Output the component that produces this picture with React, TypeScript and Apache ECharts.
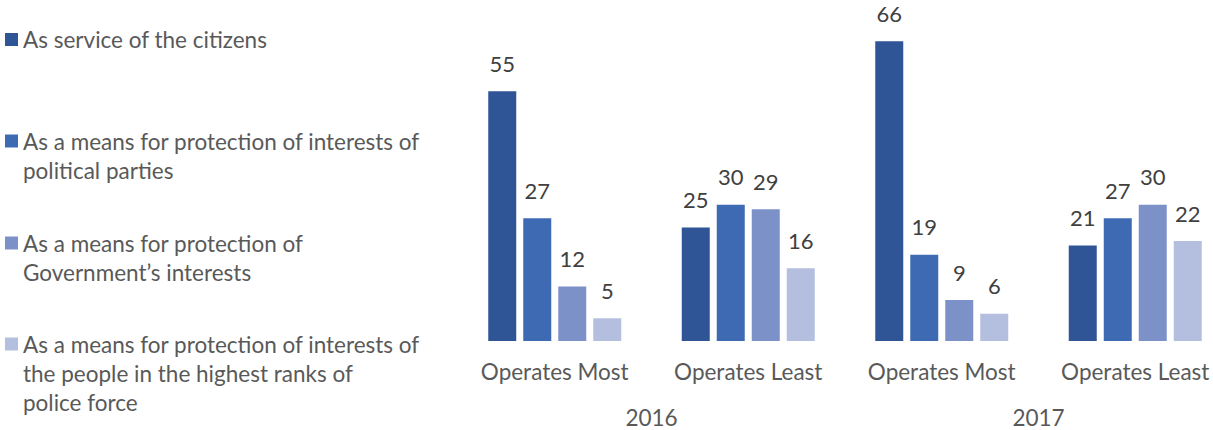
import React, { useEffect, useRef } from "react";
import * as echarts from "echarts";

const categories = ["Operates Most", "Operates Least", "Operates Most", "Operates Least"];
const years = ["2016", "2017"];
const seriesNames = [
  "As service of the citizens",
  "As a means for protection of interests of\npolitical parties",
  "As a means for protection of\nGovernment\u2019s interests",
  "As a means for protection of interests of\nthe people in the highest ranks of\npolice force",
];
const citizens = [55, 25, 66, 21];
const parties = [27, 30, 19, 27];
const government = [12, 29, 9, 30];
const police = [5, 16, 6, 22];
const colors = ["#2f5597", "#3e6ab3", "#7b91c8", "#b4bedf"];

const FONT = "Lato";

export default function App() {
  const ref = useRef<HTMLDivElement>(null);
  useEffect(() => {
    if (!ref.current) return;
    const chart = echarts.init(ref.current, undefined, { renderer: "svg" });
    const values = [citizens, parties, government, police];
    const lineH = 29;
    const iconCenters = [39.5, 141, 243, 344];
    const legends = seriesNames.map((name, i) => {
      const n = name.split("\n").length;
      return {
        show: true,
        left: 5,
        top: iconCenters[i] - ((2 * n - 1) * lineH) / 2,
        padding: 0,
        orient: "vertical",
        itemWidth: 13,
        itemHeight: 13,
        icon: "rect",
        selectedMode: false,
        data: [name],
        formatter: (nm: string) => "\n".repeat(n - 1) + nm,
        textStyle: {
          fontFamily: FONT,
          fontSize: 22.5,
          color: "#595959",
          lineHeight: lineH,
        },
      };
    });
    chart.setOption({
      animation: false,
      color: colors,
      legend: legends,
      grid: {
        left: 458,
        width: 774,
        top: 23,
        bottom: 89,
        containLabel: false,
        outerBoundsMode: "none",
      },
      xAxis: [
        {
          type: "category",
          data: categories,
          axisLine: { show: false },
          axisTick: { show: false },
          axisLabel: {
            interval: 0,
            hideOverlap: false,
            fontFamily: FONT,
            fontSize: 22.5,
            color: "#595959",
            margin: 19,
          },
        },
        {
          type: "category",
          data: years,
          position: "bottom",
          offset: 46,
          axisLine: { show: false },
          axisTick: { show: false },
          axisLabel: { interval: 0, fontFamily: FONT, fontSize: 22.5, color: "#595959", margin: 19 },
        },
      ],
      yAxis: { type: "value", min: 0, max: 70, show: false, splitLine: { show: false } },
      series: seriesNames.map((name, i) => ({
        name,
        type: "bar",
        xAxisIndex: 0,
        data: values[i],
        barWidth: 28,
        barGap: "25%",
        itemStyle: { color: colors[i] },
        label: {
          show: true,
          position: "top",
          distance: 17,
          fontFamily: FONT,
          fontSize: 22,
          color: "#404040",
        },
      })),
    });
    return () => chart.dispose();
  }, []);
  return (
    <div
      ref={ref}
      style={{ position: "fixed", left: 0, top: 0, width: 1213, height: 430, background: "#fff" }}
    />
  );
}
